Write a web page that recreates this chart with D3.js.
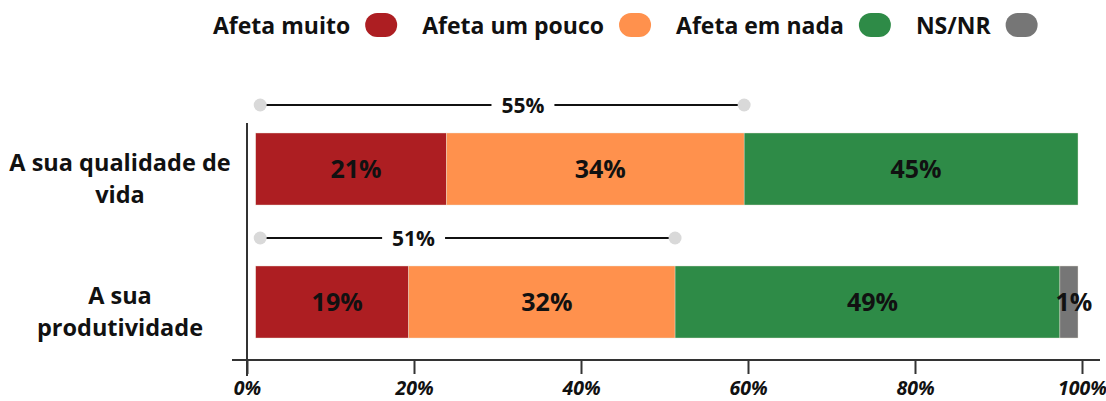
<!DOCTYPE html>
<html>
<head>
<meta charset="utf-8">
<script src="https://cdn.jsdelivr.net/npm/d3@7"></script>
<style>
  body { margin: 0; background: #fff; }
  svg text { font-family: "Open Sans", "Noto Sans", sans-serif; font-weight: 700; fill: #111; }
</style>
</head>
<body>
<div id="grafico"></div>
<script>
// dados
var categorias = ["A sua qualidade de vida", "A sua produtividade"];
var linhasRotulo = [["A sua qualidade de", "vida"], ["A sua", "produtividade"]];
var series = ["Afeta muito", "Afeta um pouco", "Afeta em nada", "NS/NR"];
var cores = ["#ad1e22", "#ff914d", "#2e8b47", "#767676"];
var afetaMuito = [23.2, 18.6];
var afetaUmPouco = [36.2, 32.4];
var afetaEmNada = [40.6, 46.8];
var nsnr = [0, 2.2];
var rotulosValor = [["21%", "34%", "45%", ""], ["19%", "32%", "49%", "1%"]];
var totalAfeta = ["55%", "51%"];
var posRotuloTotal = [32.5, 19.2];
var ticksX = [0, 20, 40, 60, 80, 100];

var width = 1106, height = 401;

var svg = d3.select("#grafico").append("svg")
  .attr("width", width)
  .attr("height", height);

var dados = categorias.map(function(c, i) {
  return {cat: c, i: i, "Afeta muito": afetaMuito[i], "Afeta um pouco": afetaUmPouco[i],
          "Afeta em nada": afetaEmNada[i], "NS/NR": nsnr[i]};
});

var stack = d3.stack().keys(series);
var camadas = stack(dados);

var x = d3.scaleLinear().domain([0, 100]).range([255.7, 1078]);   // barras
var xa = d3.scaleLinear().domain([0, 100]).range([247, 1082]);    // eixo
var y = d3.scaleBand().domain(categorias).range([133, 338]).paddingInner(0.4586).paddingOuter(0);
var color = d3.scaleOrdinal().domain(series).range(cores);

// legenda
var leg = svg.append("g").attr("class", "legenda");
var lx = 213;
series.forEach(function(s) {
  var t = leg.append("text")
    .attr("x", lx)
    .attr("y", 34)
    .style("font-size", "23px")
    .text(s);
  var w = t.node().getComputedTextLength();
  leg.append("rect")
    .attr("x", lx + w + 15)
    .attr("y", 13)
    .attr("width", 32)
    .attr("height", 24)
    .attr("rx", 12)
    .attr("fill", color(s));
  lx = lx + w + 15 + 32 + 25;
});

// barras
var g = svg.append("g");
camadas.forEach(function(camada, k) {
  g.selectAll(".seg" + k)
    .data(camada)
    .enter()
    .append("rect")
    .attr("x", function(d) { return x(d[0]); })
    .attr("y", function(d) { return y(d.data.cat); })
    .attr("width", function(d) { return x(d[1]) - x(d[0]); })
    .attr("height", y.bandwidth())
    .attr("fill", color(camada.key))
    .style("stroke", "#e8e3d6")
    .style("stroke-width", 0.4);

  g.selectAll(".rot" + k)
    .data(camada)
    .enter()
    .append("text")
    .attr("x", function(d) { return (x(d[0]) + x(d[1])) / 2 + 5; })
    .attr("y", function(d) { return y(d.data.cat) + y.bandwidth() / 2; })
    .attr("dy", "0.36em")
    .attr("text-anchor", "middle")
    .style("font-size", "25px")
    .text(function(d) { return rotulosValor[d.data.i][k]; });
});

// chaves "afeta" (muito + um pouco)
dados.forEach(function(d, i) {
  var yy = y(d.cat) - 28;
  var x0 = x(0) + 4.5;
  var x1 = x(afetaMuito[i] + afetaUmPouco[i]);
  var t = svg.append("text")
    .attr("x", x(posRotuloTotal[i]))
    .attr("y", yy)
    .attr("dy", "0.36em")
    .attr("text-anchor", "middle")
    .style("font-size", "21px")
    .text(totalAfeta[i]);
  var tw = t.node().getComputedTextLength();
  var tc = x(posRotuloTotal[i]);
  svg.append("line")
    .attr("x1", x0).attr("x2", tc - tw / 2 - 10)
    .attr("y1", yy).attr("y2", yy)
    .style("stroke", "#111").style("stroke-width", 2);
  svg.append("line")
    .attr("x1", tc + tw / 2 + 10).attr("x2", x1)
    .attr("y1", yy).attr("y2", yy)
    .style("stroke", "#111").style("stroke-width", 2);
  svg.selectAll(null)
    .data([x0, x1])
    .enter()
    .append("circle")
    .attr("cx", function(v) { return v; })
    .attr("cy", yy)
    .attr("r", 6.5)
    .attr("fill", "#d9d9d9");
});

// eixos
var x_axis = d3.axisBottom(xa)
  .tickValues(ticksX)
  .tickFormat(function(d) { return d + "%"; })
  .tickSize(14)
  .tickPadding(7);

var g_x = svg.append("g")
  .attr("transform", "translate(0,360)")
  .call(x_axis);
g_x.select(".domain").remove();
g_x.selectAll(".tick line").style("stroke", "#333").style("stroke-width", 2);
g_x.selectAll(".tick text")
  .style("font-family", "'Open Sans', sans-serif")
  .style("font-weight", 700)
  .style("font-style", "italic")
  .style("font-size", "19.5px")
  .style("fill", "#111");

svg.append("line")
  .attr("x1", 232).attr("x2", 1100)
  .attr("y1", 360).attr("y2", 360)
  .style("stroke", "#333").style("stroke-width", 2);
svg.append("line")
  .attr("x1", xa(0)).attr("x2", xa(0))
  .attr("y1", 123).attr("y2", 376)
  .style("stroke", "#333").style("stroke-width", 2);

// rótulos das categorias
categorias.forEach(function(c, i) {
  var cy = y(c) + y.bandwidth() / 2 + 10;
  var linhas = linhasRotulo[i];
  svg.append("text")
    .attr("x", 120)
    .attr("y", cy)
    .attr("text-anchor", "middle")
    .style("font-size", "23.5px")
    .selectAll("tspan")
    .data(linhas)
    .enter()
    .append("tspan")
    .attr("x", 120)
    .attr("y", function(l, j) { return cy + (j - (linhas.length - 1) / 2) * 32; })
    .attr("dy", "0.36em")
    .text(function(l) { return l; });
});
</script>
</body>
</html>
